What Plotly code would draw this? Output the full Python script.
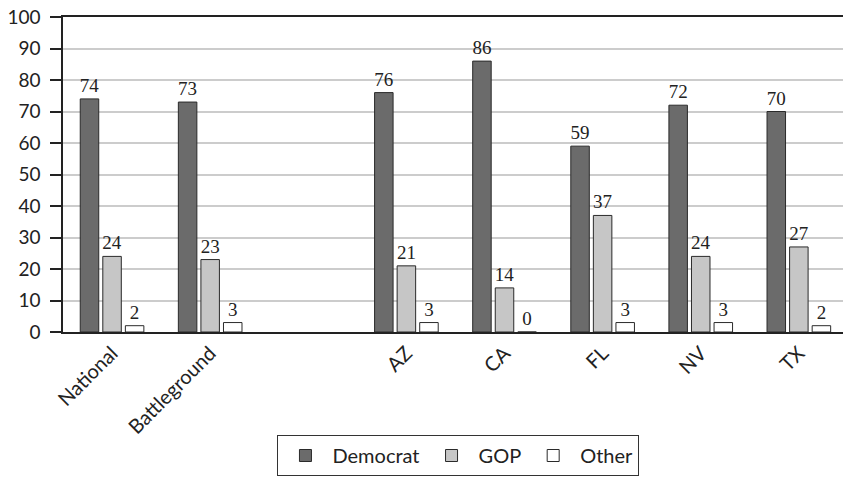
import plotly.graph_objects as go

# Share of vote by party, national / battleground and selected states
categories = ["National", "Battleground", " ", "AZ", "CA", "FL", "NV", "TX"]
democrat = [74, 73, None, 76, 86, 59, 72, 70]
gop = [24, 23, None, 21, 14, 37, 24, 27]
other = [2, 3, None, 3, 0, 3, 3, 2]
series_names = ["Democrat", "GOP", "Other"]
series_colors = ["#6b6b6b", "#c6c6c6", "#ffffff"]
y_ticks = list(range(0, 101, 10))

label_font = dict(family="Liberation Serif", size=19, color="#222222")

fig = go.Figure()
for name, vals, color in zip(series_names, [democrat, gop, other], series_colors):
    fig.add_trace(go.Bar(
        name=name,
        x=categories,
        y=vals,
        marker=dict(color=color, line=dict(color="#2a2a2a", width=1)),
        text=[("" if v is None else str(v)) for v in vals],
        texttemplate="%{text}",
        textposition="outside",
        textfont=label_font,
        outsidetextfont=label_font,
        constraintext="none",
        cliponaxis=False,
    ))

fig.update_layout(
    width=843,
    height=479,
    margin=dict(l=63, r=0, t=17, b=147),
    paper_bgcolor="white",
    plot_bgcolor="white",
    barmode="group",
    bargap=0.31,
    bargroupgap=0.18,
    font=dict(family="Lato", size=18, color="#222222"),
    xaxis=dict(
        range=[-0.5, 7.45],
        tickangle=-45,
        showline=True,
        linecolor="#222222",
        linewidth=1.5,
        mirror=True,
        ticks="",
        showgrid=False,
        tickfont=dict(family="Lato", size=20, color="#222222"),
    ),
    yaxis=dict(
        range=[0, 100],
        tickvals=y_ticks,
        showline=True,
        linecolor="#222222",
        linewidth=1.5,
        ticks="outside",
        ticklen=11,
        tickwidth=1.5,
        tickcolor="#222222",
        ticklabelstandoff=6,
        showgrid=True,
        gridcolor="#cccccc",
        gridwidth=1.5,
        zeroline=False,
        tickfont=dict(family="Lato", size=19, color="#222222"),
    ),
    showlegend=True,
    legend=dict(
        orientation="h",
        x=0.507,
        xanchor="center",
        y=-0.327,
        yanchor="top",
        bgcolor="white",
        bordercolor="#333333",
        borderwidth=1,
        font=dict(family="Lato", size=20, color="#222222"),
        traceorder="normal",
        itemwidth=44,
    ),
)

fig.write_html("out.html")
